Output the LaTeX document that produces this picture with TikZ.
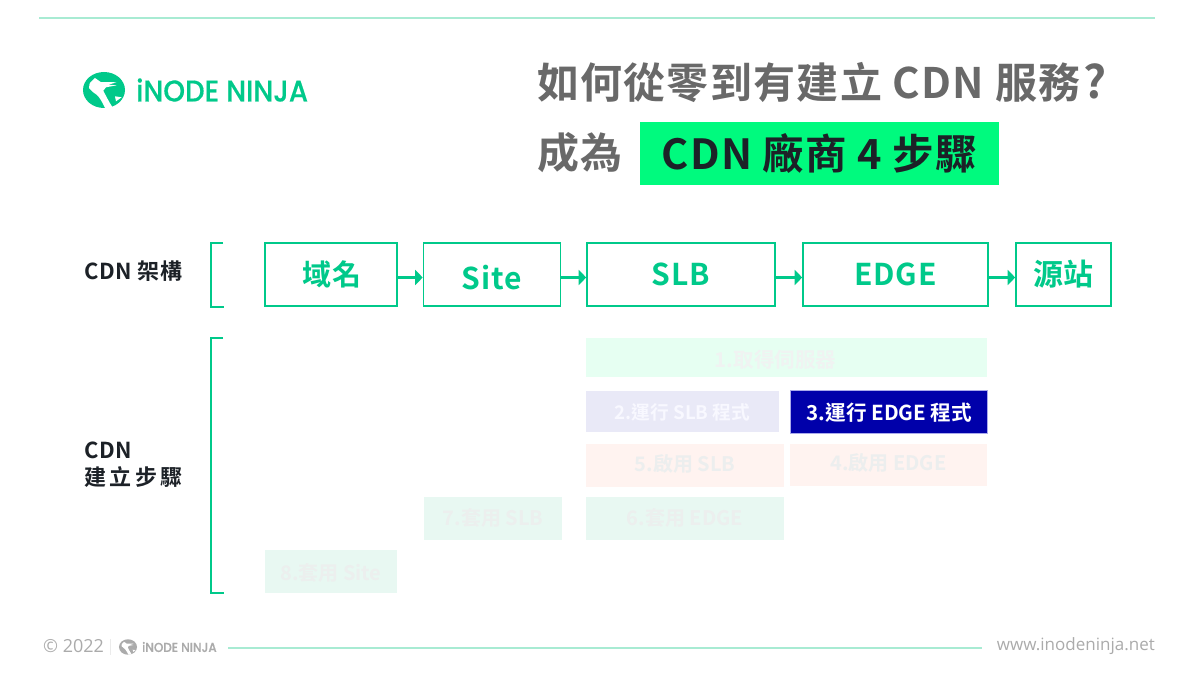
\documentclass[tikz,border=0pt]{standalone}
\usepackage{fontspec}
\usetikzlibrary{arrows.meta}
\newfontfamily\cjkb[LetterSpace=3]{Noto Sans CJK TC Bold}
\newfontfamily\cjkw[LetterSpace=16]{Noto Sans CJK TC Bold}
\newfontfamily\cjkn{Noto Sans CJK TC Bold}
\newfontfamily\logof[FakeStretch=0.92,FakeBold=0.4]{Poppins Medium}
\newfontfamily\footf{Open Sans}
\newcommand{\fsz}[1]{\fontsize{#1}{#1}\selectfont}
\newcommand{\nudge}[2]{\raisebox{#1}[\height][\depth]{#2}}
\definecolor{ngreen}{HTML}{00C98A}
\definecolor{lgreen}{HTML}{A8EBD3}
\definecolor{ttl}{HTML}{696969}
\definecolor{dark}{HTML}{1C2127}
\definecolor{neon}{HTML}{00FA7E}
\definecolor{ftgray}{HTML}{ABABAB}
\definecolor{navy}{HTML}{0000AA}
\definecolor{sa}{RGB}{230,255,242}
\definecolor{sat}{RGB}{240,243,242}
\definecolor{sb}{RGB}{233,233,247}
\definecolor{sbt}{RGB}{248,248,255}
\definecolor{sc}{RGB}{255,243,240}
\definecolor{sct}{RGB}{236,238,238}
\definecolor{sd}{RGB}{232,248,242}
\definecolor{sdt}{RGB}{236,239,238}
\tikzset{
  x=1pt,y=-1pt,
  title/.style={font=\cjkb\fsz{42},text=ttl,anchor=west,inner sep=0pt},
  lbl/.style={font=\cjkb\fsz{22},text=dark,anchor=west,inner sep=0pt,align=left},
  archbox/.style={draw=ngreen,line width=1.6pt,fill=white,inner sep=0pt,minimum height=63pt,font=\cjkb\fsz{30},text=ngreen},
  stepbox/.style={draw=none,inner sep=0pt,font=\cjkn\fsz{20}},
  link/.style={draw=ngreen,line width=2.4pt,-{Triangle[length=7.5pt,width=15pt]}},
  brk/.style={draw=ngreen,line width=1.8pt},
  rulel/.style={draw=lgreen,line width=1.1pt},
}
\newcommand{\nlogo}[4]{% x y scale colour
\begin{scope}[shift={(#1,#2)},scale=#3]
  \fill[#4] (0,0) ellipse [x radius=21,y radius=18];
  \fill[white] (-15,-2) .. controls (-15,-5) and (-14,-7) .. (-14,-7)
     -- (-9,-12) -- (-3.3,-8) -- (12.7,-7.7) -- (4.3,-5.3) -- (12.7,-4.7) -- (2,-2.7)
     -- (-0.7,0.7) .. controls (2,6) and (5,12) .. (9,18) -- (1,18)
     .. controls (-2,11) and (-5,7) .. (-7,5)
     .. controls (-10,3) and (-13,1) .. (-15,-2) -- cycle;
  \fill[white] (11,6.3) -- (17.7,7.3) -- (12,11.3) -- cycle;
\end{scope}}
\begin{document}
\begin{tikzpicture}
\useasboundingbox (0,0) rectangle (1200,676);
\fill[white] (0,0) rectangle (1200,676);
% top and footer rules
\coordinate (tl) at (39,18); \coordinate (tr) at (1155,18);
\draw[rulel] (tl) -- (tr);
\coordinate (fl) at (228,648); \coordinate (fr) at (982,648);
\draw[rulel] (fl) -- (fr);
% logo
\nlogo{104}{90}{1}{ngreen}
\node[font=\logof\fsz{30},text=ngreen,anchor=west,inner sep=0pt] (logotext) at (136,90) {iNODE NINJA};
% title
\node[title] (t1) at (537,83) {如何從零到有建立 CDN 服務\hspace{3pt}{\fsz{45}?}};
\node[title] (t2) at (537,153) {成為};
\node[fill=neon,minimum width=359pt,minimum height=63pt,inner sep=0pt,font=\cjkb\fsz{41.5},text=dark] (t3) at (819.5,153.5) {CDN 廠商 4 步驟};
% labels
\node[lbl] (l1) at (84,271.5) {CDN 架構};
\node[lbl] (l2) at (84,464.5) {CDN\\[5pt]{\cjkw 建立步驟}};
% brackets
\coordinate (b1a) at (223,243); \coordinate (b1b) at (211,243); \coordinate (b1c) at (211,307); \coordinate (b1d) at (224,307);
\draw[brk] (b1a) -- (b1b) -- (b1c) -- (b1d);
\coordinate (b2a) at (223,338); \coordinate (b2b) at (211,338); \coordinate (b2c) at (211,593); \coordinate (b2d) at (224,593);
\draw[brk] (b2a) -- (b2b) -- (b2c) -- (b2d);
% architecture
\node[archbox,font=\cjkb\fsz{29},minimum width=132pt] (dom) at (331,274.5) {\hspace{1.5pt}域名};
\node[archbox,minimum width=137pt] (site) at (492,274.5) {\nudge{-3pt}{Site}};
\node[archbox,minimum width=188pt] (slb) at (681,274.5) {SLB};
\node[archbox,minimum width=185pt] (edge) at (895.5,274.5) {EDGE};
\node[archbox,minimum width=95pt] (src) at (1063.5,274.5) {源站};
\draw[link] ([yshift=-3pt]dom.east) -- ([yshift=-3pt]site.west);
\draw[link] ([yshift=-3pt]site.east) -- ([yshift=-3pt]slb.west);
\draw[link] ([yshift=-3pt]slb.east) -- ([yshift=-3pt]edge.west);
\draw[link] ([yshift=-3pt]edge.east) -- ([yshift=-3pt]src.west);
% steps
\node[stepbox,fill=sa,text=sat,font=\cjkn\fsz{20.5},minimum width=401pt,minimum height=39pt] (s1) at (786.5,358) {\nudge{-1.5pt}{1.取得伺服器\hspace{22pt}}};
\node[stepbox,fill=sb,text=sbt,font=\cjkn\fsz{18.7},minimum width=193pt,minimum height=41pt] (s2) at (682.5,411.5) {\nudge{-1pt}{2.運行 SLB 程式}};
\node[stepbox,fill=navy,draw={rgb,255:red,170;green,170;blue,235},line width=0.7pt,text=white,font=\cjkn\fsz{20.6},minimum width=197pt,minimum height=43pt] (s3) at (888.5,411.5) {\nudge{-1pt}{\hspace{2pt}3.運行 EDGE 程式}};
\node[stepbox,fill=sc,text=sct,minimum width=198pt,minimum height=43pt] (s5) at (685,465.5) {\nudge{2pt}{5.啟用 SLB}};
\node[stepbox,fill=sc,text=sct,minimum width=197pt,minimum height=42pt] (s4) at (888.5,465) {\nudge{2pt}{4.啟用 EDGE}};
\node[stepbox,fill=sd,text=sdt,minimum width=198pt,minimum height=43pt] (s6) at (685,518.5) {\nudge{1pt}{6.套用 EDGE}};
\node[stepbox,fill=sd,text=sdt,minimum width=138pt,minimum height=43pt] (s7) at (493,518.5) {\nudge{1pt}{7.套用 SLB}};
\node[stepbox,fill=sd,text=sdt,minimum width=132pt,minimum height=43pt] (s8) at (331,571.5) {\nudge{-1pt}{8.套用 Site}};
% footer
\node[font=\footf\fsz{18},text=ftgray,anchor=west,inner sep=0pt] (copy) at (43,646.5) {© 2022};
\coordinate (da) at (110,639); \coordinate (db) at (110,655);
\draw[draw=black!8,line width=0.6pt] (da) -- (db);
\nlogo{128}{647}{0.43}{ftgray}
\node[font=\logof\fsz{13},text=ftgray,anchor=west,inner sep=0pt] (flogo) at (142,647) {iNODE NINJA};
\node[font=\footf\fsz{17},text=ftgray,anchor=east,inner sep=0pt] (web) at (1155,646) {www.inodeninja.net};
\end{tikzpicture}
\end{document}
